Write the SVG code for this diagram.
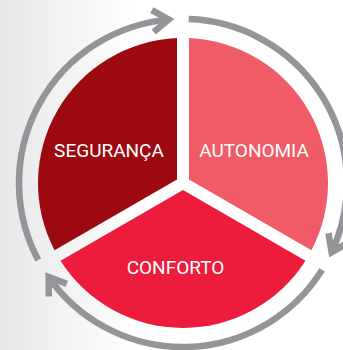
<svg xmlns="http://www.w3.org/2000/svg" width="343" height="350" viewBox="0 0 343 350">
  <style>
    .ring { fill: none; stroke: #939598; stroke-width: 6.5; }
    .lbl { font-family: Roboto, "Liberation Sans", sans-serif; font-size: 19px; fill: #ffffff; text-anchor: middle; }
  </style>
  <defs>
    <linearGradient id="bg" x1="0" y1="0" x2="1" y2="0">
      <stop offset="0" stop-color="#E6E7E8"/>
      <stop offset="0.4" stop-color="#FFFFFF"/>
    </linearGradient>
    <marker id="chev" markerUnits="userSpaceOnUse" orient="auto" markerWidth="40" markerHeight="40" refX="0" refY="0" viewBox="-20 -20 40 40" overflow="visible">
      <path d="M-16,-11 L0,0 L-16,11" fill="none" stroke="#939598" stroke-width="6.5" stroke-linejoin="miter"/>
    </marker>
  </defs>
  <rect x="0" y="0" width="343" height="350" fill="url(#bg)"/>
  <g id="connectors">
    <path class="ring" d="M38.20,259.99 A164,164 0 0,1 168.71,19.62" marker-end="url(#chev)"/>
    <path class="ring" d="M188.72,19.10 A164,164 0 0,1 331.63,252.31" marker-end="url(#chev)"/>
    <path class="ring" d="M322.07,269.90 A164,164 0 0,1 48.66,277.07" marker-end="url(#chev)"/>
  </g>
  <g id="seguranca">
    <path d="M177,179.54 L54.54,250.24 A145,145 0 0,1 177,38.12 Z" fill="#9D0911"/>
    <text class="lbl" x="109" y="157">SEGURANÇA</text>
  </g>
  <g id="autonomia">
    <path d="M189,179.54 L189,38.12 A145,145 0 0,1 311.46,250.24 Z" fill="#EF5B67"/>
    <text class="lbl" x="254" y="157">AUTONOMIA</text>
  </g>
  <g id="conforto">
    <path d="M183,189.93 L305.46,260.64 A145,145 0 0,1 60.54,260.64 Z" fill="#ED1B3C"/>
    <text class="lbl" x="175.5" y="274">CONFORTO</text>
  </g>
</svg>
